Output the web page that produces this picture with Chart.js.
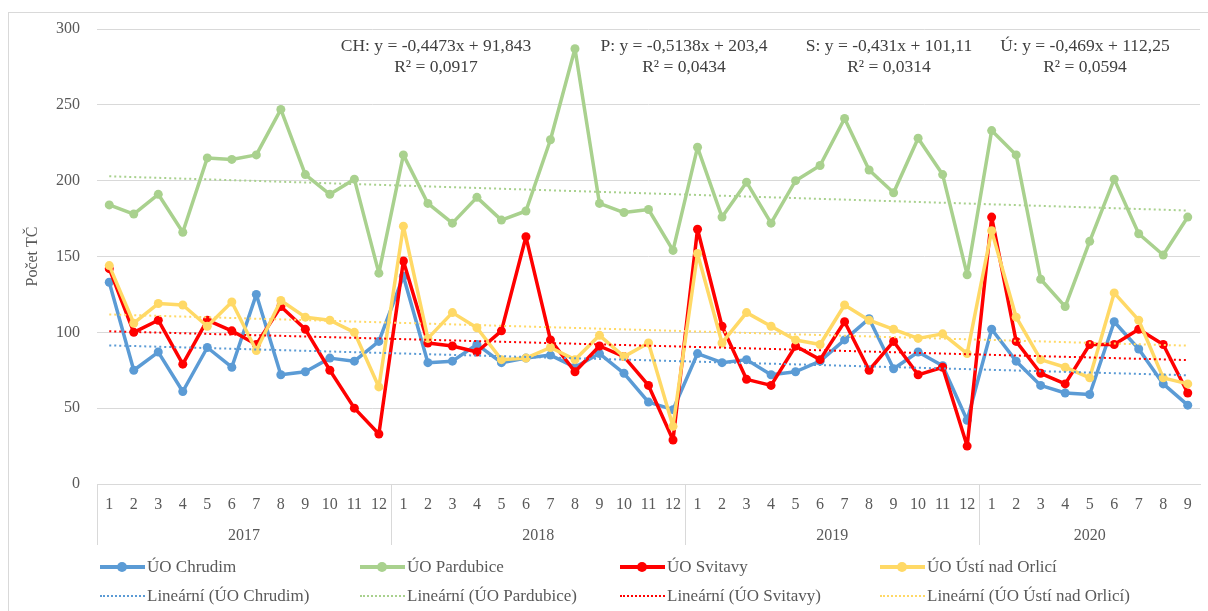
<!DOCTYPE html>
<html>
<head>
<meta charset="utf-8">
<script src="https://cdn.jsdelivr.net/npm/chart.js@4.4.1/dist/chart.umd.min.js"></script>
<style>
  body { margin: 0; background: #fff; font-family: "Liberation Serif", "Times New Roman", serif; }
  #frame { position: absolute; left: 8px; top: 12px; width: 1300px; height: 700px; border-left: 1px solid #d9d9d9; border-top: 1px solid #d9d9d9; }
  #myChart { position: absolute; left: 0; top: 0; }
  .rovnice { position: absolute; width: 260px; text-align: center; font-family: "Liberation Serif", serif; font-size: 17.5px; line-height: 21px; color: #404040; }
  .legenda { position: absolute; font-family: "Liberation Serif", serif; font-size: 17px; color: #595959; white-space: nowrap; display: flex; align-items: center; }
  .vzorek { position: relative; width: 45px; height: 0; margin-right: 2px; }
  .plna { border-top: 4px solid; }
  .plna::after { content: ''; position: absolute; left: 17px; top: -7px; width: 10px; height: 10px; border-radius: 50%; background: currentColor; }
  .tecky { border-top: 2px dotted; }
</style>
</head>
<body>
<div id="frame"></div>
<canvas id="myChart" width="1208" height="611"></canvas>

<div class="rovnice" style="left:306px; top:35px;">CH: y = -0,4473x + 91,843<br>R² = 0,0917</div>
<div class="rovnice" style="left:554px; top:35px;">P: y = -0,5138x + 203,4<br>R² = 0,0434</div>
<div class="rovnice" style="left:759px; top:35px;">S: y = -0,431x + 101,11<br>R² = 0,0314</div>
<div class="rovnice" style="left:955px; top:35px;">Ú: y = -0,469x + 112,25<br>R² = 0,0594</div>

<div id="legend"></div>

<script>
var years = ['2017', '2018', '2019', '2020'];
var yearMonths = [12, 12, 12, 9];
var months = ['1','2','3','4','5','6','7','8','9','10','11','12',
              '1','2','3','4','5','6','7','8','9','10','11','12',
              '1','2','3','4','5','6','7','8','9','10','11','12',
              '1','2','3','4','5','6','7','8','9'];

var chrudim = [133, 75, 87, 61, 90, 77, 125, 72, 74, 83, 81, 94,
               137, 80, 81, 92, 80, 83, 85, 77, 86, 73, 54, 49,
               86, 80, 82, 72, 74, 81, 95, 109, 76, 87, 78, 42,
               102, 81, 65, 60, 59, 107, 89, 66, 52];
var pardubice = [184, 178, 191, 166, 215, 214, 217, 247, 204, 191, 201, 139,
                 217, 185, 172, 189, 174, 180, 227, 287, 185, 179, 181, 154,
                 222, 176, 199, 172, 200, 210, 241, 207, 192, 228, 204, 138,
                 233, 217, 135, 117, 160, 201, 165, 151, 176];
var svitavy = [142, 100, 108, 79, 108, 101, 92, 117, 102, 75, 50, 33,
               147, 93, 91, 87, 101, 163, 95, 74, 91, 84, 65, 29,
               168, 104, 69, 65, 91, 82, 107, 75, 94, 72, 77, 25,
               176, 94, 73, 66, 92, 92, 102, 92, 60];
var usti = [144, 106, 119, 118, 104, 120, 88, 121, 110, 108, 100, 64,
            170, 96, 113, 103, 82, 83, 90, 82, 98, 84, 93, 38,
            152, 93, 113, 104, 95, 92, 118, 108, 102, 96, 99, 86,
            167, 110, 82, 77, 70, 126, 108, 70, 66];

// trend lines: value at first and last month
var trendStart = [91.4, 202.9, 100.7, 111.8];
var trendEnd = [71.7, 180.3, 81.7, 91.2];

var names = ['ÚO Chrudim', 'ÚO Pardubice', 'ÚO Svitavy', 'ÚO Ústí nad Orlicí'];
var colors = ['#5b9bd5', '#a9d18e', '#ff0000', '#ffd966'];
var series = [chrudim, pardubice, svitavy, usti];

function trendData(i) {
    var d = [];
    for (var k = 0; k < months.length; k++) d.push(null);
    d[0] = trendStart[i];
    d[months.length - 1] = trendEnd[i];
    return d;
}

var datasets = [];
for (var i = 0; i < 4; i++) {
    datasets.push({
        label: names[i],
        data: series[i],
        borderColor: colors[i],
        backgroundColor: colors[i],
        borderWidth: 3.5,
        borderJoinStyle: 'round',
        borderCapStyle: 'round',
        pointRadius: 4.5,
        pointBorderWidth: 0,
        tension: 0,
        order: 8 - i
    });
}
for (var i = 0; i < 4; i++) {
    datasets.push({
        label: 'Lineární (' + names[i] + ')',
        data: trendData(i),
        borderColor: colors[i],
        borderWidth: 2,
        borderDash: [2, 3],
        pointRadius: 0,
        spanGaps: true,
        order: 4 - i
    });
}

// years row under the month numbers
var yearAxis = {
    id: 'yearAxis',
    afterDraw: function (chart) {
        var x = chart.scales.x;
        var ctx = chart.ctx;
        var w = x.getPixelForValue(1) - x.getPixelForValue(0);
        var bottom = chart.chartArea.bottom;
        ctx.save();
        ctx.strokeStyle = '#d9d9d9';
        ctx.lineWidth = 1;
        ctx.fillStyle = '#595959';
        ctx.font = '16px "Liberation Serif", serif';
        ctx.textAlign = 'center';
        ctx.textBaseline = 'middle';
        var idx = 0;
        for (var j = 0; j < years.length; j++) {
            var x0 = x.getPixelForValue(idx) - w / 2;
            var x1 = x.getPixelForValue(idx + yearMonths[j] - 1) + w / 2;
            ctx.beginPath();
            ctx.moveTo(Math.round(x0) + 0.5, bottom);
            ctx.lineTo(Math.round(x0) + 0.5, bottom + 61);
            ctx.stroke();
            ctx.fillText(years[j], (x0 + x1) / 2, bottom + 52);
            idx += yearMonths[j];
        }
        ctx.restore();
    }
};

var ctx = document.getElementById('myChart');
var chart = new Chart(ctx, {
    type: 'line',
    data: { labels: months, datasets: datasets },
    plugins: [yearAxis],
    options: {
        responsive: false,
        animation: false,
        layout: { padding: { left: 0, right: 8, top: 29, bottom: 0 } },
        plugins: {
            legend: { display: false },
            tooltip: { enabled: false }
        },
        scales: {
            x: {
                offset: true,
                grid: { display: false, drawTicks: false },
                border: { color: '#d9d9d9' },
                ticks: {
                    color: '#595959',
                    font: { family: '"Liberation Serif", serif', size: 16 },
                    padding: 11,
                    maxRotation: 0,
                    autoSkip: false
                },
                afterFit: function (scale) { scale.height = 127; }
            },
            y: {
                min: 0,
                max: 300,
                grid: { color: '#d9d9d9', drawTicks: false },
                border: { display: false },
                ticks: {
                    stepSize: 50,
                    color: '#595959',
                    font: { family: '"Liberation Serif", serif', size: 16 },
                    padding: 17
                },
                title: {
                    display: true,
                    text: 'Počet TČ',
                    color: '#595959',
                    font: { family: '"Liberation Serif", serif', size: 16 },
                    padding: { top: 23, bottom: 0 }
                },
                afterFit: function (scale) { scale.width = 97; }
            }
        }
    }
});

// legend in 4 columns, 2 rows
var legend = document.getElementById('legend');
for (var i = 0; i < 8; i++) {
    var ds = datasets[i];
    var item = document.createElement('div');
    item.className = 'legenda';
    item.style.left = (100 + (i % 4) * 260) + 'px';
    item.style.top = (i < 4 ? 557 : 586) + 'px';
    var vz = document.createElement('span');
    vz.className = 'vzorek ' + (i < 4 ? 'plna' : 'tecky');
    vz.style.color = ds.borderColor;
    vz.style.borderColor = ds.borderColor;
    item.appendChild(vz);
    var t = document.createElement('span');
    t.textContent = ds.label;
    item.appendChild(t);
    legend.appendChild(item);
}
</script>
</body>
</html>
